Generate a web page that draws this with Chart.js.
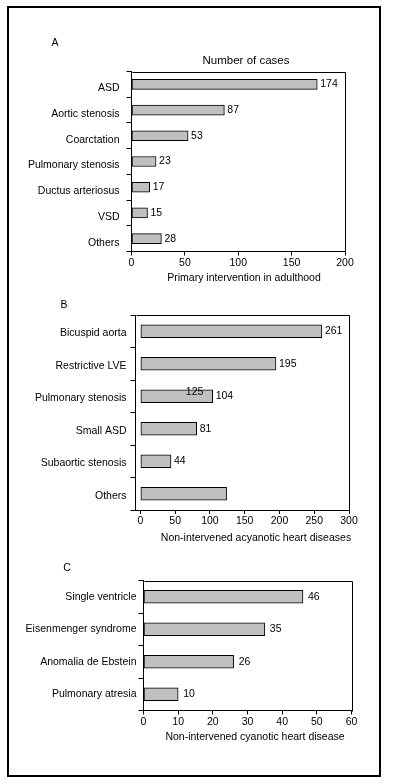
<!DOCTYPE html>
<html lang="en">
<head>
<meta charset="UTF-8">
<title>Congenital heart disease cases</title>
<script src="https://cdn.jsdelivr.net/npm/chart.js"></script>
<style>
  * { margin: 0; padding: 0; }
  body { background: #fff; width: 393px; height: 784px; position: relative; overflow: hidden; }
  .frame { position: absolute; left: 7px; top: 6px; width: 374px; height: 771px; border: 2px solid #000; box-sizing: border-box; }
  canvas { position: absolute; left: 0; top: 0; }
</style>
</head>
<body>
<div class="frame"></div>
<canvas id="chartA" width="393" height="784"></canvas>
<canvas id="chartB" width="393" height="784"></canvas>
<canvas id="chartC" width="393" height="784"></canvas>
<script>
const FONT = "'Liberation Sans', Arial, sans-serif";

// A - primary intervention in adulthood
const adultCategories = ['ASD', 'Aortic stenosis', 'Coarctation', 'Pulmonary stenosis', 'Ductus arteriosus', 'VSD', 'Others'];
const adultCases = [174, 87, 53, 23, 17, 15, 28];
const adultLabels = ['174', '87', '53', '23', '17', '15', '28'];
const adultTicks = [0, 50, 100, 150, 200];

// B - non-intervened acyanotic
const acyanoticCategories = ['Bicuspid aorta', 'Restrictive LVE', 'Pulmonary stenosis', 'Small ASD', 'Subaortic stenosis', 'Others'];
const acyanoticCases = [261, 195, 104, 81, 44, 124];
const acyanoticLabels = ['261', '195', '104', '81', '44', ''];
const acyanoticTicks = [0, 50, 100, 150, 200, 250, 300];

// C - non-intervened cyanotic
const cyanoticCategories = ['Single ventricle', 'Eisenmenger syndrome', 'Anomalia de Ebstein', 'Pulmonary atresia'];
const cyanoticCases = [46, 35, 26, 10];
const cyanoticLabels = ['46', '35', '26', '10'];
const cyanoticTicks = [0, 10, 20, 30, 40, 50, 60];

const W = 393, H = 784;
const X_AXIS_H = 40;
const TEXT_SIZE = 10.5;

// draws the box, value labels and the extra texts of one panel
function panelExtras(p) {
  return {
    id: 'panelExtras',
    afterDraw(chart) {
      const ctx = chart.ctx;
      const a = chart.chartArea;
      ctx.save();
      ctx.strokeStyle = '#000';
      ctx.lineWidth = 1;
      ctx.beginPath();
      ctx.moveTo(Math.round(a.left) + 0.5, Math.round(a.top) + 0.5);
      ctx.lineTo(Math.round(a.right) + 0.5, Math.round(a.top) + 0.5);
      ctx.lineTo(Math.round(a.right) + 0.5, Math.round(a.bottom) + 0.5);
      ctx.stroke();

      ctx.fillStyle = '#000';
      ctx.textBaseline = 'middle';
      ctx.textAlign = 'left';
      ctx.font = TEXT_SIZE + 'px ' + FONT;
      const meta = chart.getDatasetMeta(0);
      meta.data.forEach((bar, i) => {
        if (p.valueLabels[i]) ctx.fillText(p.valueLabels[i], bar.x + p.valueGap, bar.y);
      });
      // misplaced "125" label printed over the pulmonary stenosis bar
      if (p.stray) {
        const x = chart.scales.x.getPixelForValue(p.stray.value);
        const y = chart.scales.y.getPixelForValue(p.stray.index) + p.stray.dy;
        ctx.textAlign = 'center';
        ctx.fillText(p.stray.text, x, y);
      }

      ctx.textAlign = 'center';
      ctx.fillText(p.letter, p.letterPos[0], p.letterPos[1]);
      ctx.fillText(p.axisTitle, p.axisTitlePos[0], p.axisTitlePos[1]);
      if (p.topTitle) {
        ctx.font = '11.5px ' + FONT;
        ctx.fillText(p.topTitle, p.topTitlePos[0], p.topTitlePos[1]);
      }
      ctx.restore();
    }
  };
}

function makePanel(canvasId, p) {
  const tickFont = { family: FONT, size: TEXT_SIZE };
  const yWidth = p.area.left - 2;
  return new Chart(document.getElementById(canvasId), {
    type: 'bar',
    data: {
      labels: p.categories,
      datasets: [{
        data: p.values,
        backgroundColor: '#c0c0c0',
        borderColor: '#000',
        borderWidth: 1,
        borderSkipped: false,
        barThickness: p.barThickness
      }]
    },
    options: {
      indexAxis: 'y',
      responsive: false,
      animation: false,
      events: [],
      layout: {
        padding: {
          left: 2,
          right: W - p.area.right,
          top: p.area.top,
          bottom: H - p.area.bottom - X_AXIS_H
        }
      },
      plugins: {
        legend: { display: false },
        tooltip: { enabled: false }
      },
      scales: {
        x: {
          min: p.min,
          max: p.max,
          afterBuildTicks: s => { s.ticks = p.ticks.map(v => ({ value: v })); },
          afterFit: s => { s.height = X_AXIS_H; },
          grid: { display: true, drawOnChartArea: false, drawTicks: true, tickLength: 4, color: '#000' },
          border: { display: true, color: '#000', width: 1 },
          ticks: { color: '#000', font: tickFont, padding: 1, maxRotation: 0, autoSkip: false }
        },
        y: {
          afterFit: s => { s.width = yWidth; },
          grid: { display: true, drawOnChartArea: false, drawTicks: true, tickLength: 5, color: '#000' },
          border: { display: true, color: '#000', width: 1 },
          ticks: { color: '#000', font: tickFont, padding: p.labelGap, labelOffset: p.labelShift, autoSkip: false }
        }
      }
    },
    plugins: [panelExtras(p)]
  });
}

makePanel('chartA', {
  categories: adultCategories, values: adultCases, valueLabels: adultLabels, ticks: adultTicks,
  min: 0, max: 200, barThickness: 10, valueGap: 3, labelGap: 7, labelShift: 4,
  area: { left: 131.5, right: 345, top: 71.5, bottom: 251.5 },
  letter: 'A', letterPos: [55, 43],
  topTitle: 'Number of cases', topTitlePos: [246, 61],
  axisTitle: 'Primary intervention in adulthood', axisTitlePos: [244, 278]
});

makePanel('chartB', {
  categories: acyanoticCategories, values: acyanoticCases, valueLabels: acyanoticLabels, ticks: acyanoticTicks,
  min: -7, max: 300, barThickness: 13, valueGap: 3, labelGap: 4, labelShift: 2,
  area: { left: 135.5, right: 349, top: 315, bottom: 510 },
  stray: { text: '125', value: 78, index: 2, dy: -4 },
  letter: 'B', letterPos: [64, 305],
  axisTitle: 'Non-intervened acyanotic heart diseases', axisTitlePos: [256, 538]
});

makePanel('chartC', {
  categories: cyanoticCategories, values: cyanoticCases, valueLabels: cyanoticLabels, ticks: cyanoticTicks,
  min: 0, max: 60, barThickness: 13, valueGap: 5, labelGap: 2, labelShift: 0,
  area: { left: 143.5, right: 351.5, top: 580.5, bottom: 710.5 },
  letter: 'C', letterPos: [67, 568],
  axisTitle: 'Non-intervened cyanotic heart disease', axisTitlePos: [255, 737]
});
</script>
</body>
</html>
